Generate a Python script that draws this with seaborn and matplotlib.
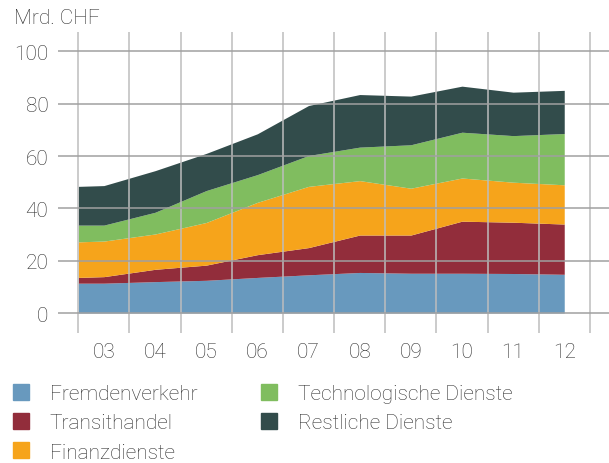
import matplotlib
matplotlib.use("Agg")
import matplotlib.pyplot as plt
from matplotlib.lines import Line2D
import seaborn as sns
import pandas as pd

# Werte (Mrd. CHF) – Zeitpunkte: Beginn 2003, dann Jahresmitte 2003..2012
jahre = [2003.0, 2003.5, 2004.5, 2005.5, 2006.5, 2007.5, 2008.5, 2009.5, 2010.5, 2011.5, 2012.5]
fremdenverkehr = [11.4, 11.4, 12.0, 12.5, 13.6, 14.6, 15.5, 15.2, 15.2, 15.1, 14.8]
transithandel = [2.2, 2.5, 4.7, 5.8, 8.7, 10.4, 14.3, 14.6, 19.9, 19.6, 19.2]
finanzdienste = [13.6, 13.6, 13.5, 16.3, 20.0, 23.4, 20.8, 17.9, 16.5, 15.3, 15.0]
technologische = [6.4, 6.1, 8.3, 12.2, 10.6, 11.8, 12.8, 16.6, 17.5, 17.8, 19.6]
restliche = [14.8, 15.1, 15.9, 14.2, 15.6, 19.1, 20.1, 18.6, 17.6, 16.6, 16.5]

labels = ["Fremdenverkehr", "Transithandel", "Finanzdienste",
          "Technologische Dienste", "Restliche Dienste"]
tick_labels = ["03", "04", "05", "06", "07", "08", "09", "10", "11", "12"]
farben = ["#6899be", "#922d3b", "#f6a41b", "#80bd5f", "#324c4b"]

df = pd.DataFrame({"Jahr": jahre, labels[0]: fremdenverkehr, labels[1]: transithandel,
                   labels[2]: finanzdienste, labels[3]: technologische, labels[4]: restliche})

sns.set_theme(style="white")
plt.rcParams["font.family"] = ["Roboto", "DejaVu Sans"]
plt.rcParams["font.weight"] = "light"
textfarbe = "#2e2e2e"
fs = 15

fig = plt.figure(figsize=(6.09, 4.64), dpi=100)
ax = fig.add_axes([58 / 609, 1 - 334 / 464, 1 - 58 / 609, (334 - 33) / 464])

ax.stackplot(df["Jahr"], [df[l] for l in labels], colors=sns.color_palette(farben),
             linewidth=0)

ax.set_xlim(2002.603, 2013.375)
ax.set_ylim(-7.64, 107.4)
for s in ax.spines.values():
    s.set_visible(False)

# Gitter liegt über den Flächen
ax.set_axisbelow(False)
ax.set_yticks([0, 20, 40, 60, 80, 100])
ax.set_xticks(range(2003, 2014))
ax.set_xticks([j + 0.5 for j in range(2003, 2013)], minor=True)
ax.set_xticklabels([])
ax.set_xticklabels(tick_labels, minor=True)
ax.yaxis.grid(True, color="#a0a0a0", linewidth=1.1)
ax.xaxis.grid(True, which="major", color="#bdbdbd", linewidth=1.1)
ax.tick_params(axis="both", which="both", length=0, labelsize=fs, colors=textfarbe)
ax.tick_params(axis="y", pad=7)
ax.tick_params(axis="x", which="minor", pad=6.5)
for t in ax.get_yticklabels() + ax.get_xticklabels(minor=True):
    t.set_fontweight("light")

fig.text(14 / 609, 1 - 24 / 464, "Mrd. CHF", fontsize=fs, color=textfarbe,
         va="baseline", ha="left", fontweight="light")

handles = [Line2D([], [], marker="s", ls="", markersize=11.5, color=c) for c in farben]
leg = fig.legend(handles, labels, ncol=2, loc="upper left",
                 bbox_to_anchor=(2 / 609, 1 - 376.8 / 464), frameon=False,
                 fontsize=fs, handlelength=1.0, handletextpad=0.89,
                 columnspacing=2.95, labelspacing=0.49, borderaxespad=0)
for t in leg.get_texts():
    t.set_color(textfarbe)
    t.set_fontweight("light")

fig.savefig("out.png", dpi=100)
